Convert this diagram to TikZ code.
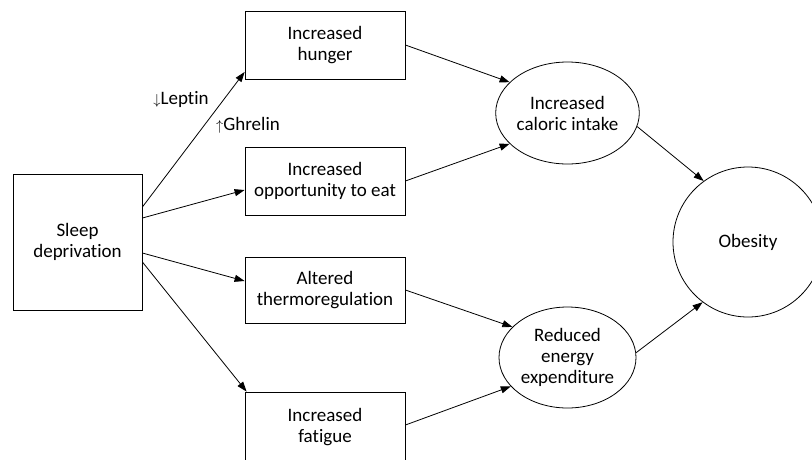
\documentclass[tikz,border=0pt]{standalone}
\usepackage{fontspec}
\setmainfont{Carlito}[Ligatures={NoCommon}]
\usetikzlibrary{arrows.meta,shapes.geometric,calc}
\tikzset{
  boxnode/.style={draw, line width=0.8pt, rectangle, minimum width=160pt, minimum height=68pt, inner sep=0pt, align=center, font=\fontsize{19}{21}\selectfont},
  ovalnode/.style={draw, line width=0.8pt, ellipse, minimum width=137pt, minimum height=102pt, inner sep=0pt, align=center, font=\fontsize{19}{21}\selectfont},
  lbl/.style={inner sep=0pt, font=\fontsize{19}{21}\selectfont},
  conn/.style={line width=0.8pt, -{Triangle[length=10pt,width=7pt]}}
}
\begin{document}
\begin{tikzpicture}[x=1pt,y=-1pt]
\useasboundingbox (0,0) rectangle (812,459);
\clip (0,0) rectangle (812,459);
\node[boxnode, minimum width=129pt, minimum height=136pt] (sleep) at (77.5,242) {Sleep\\deprivation};
\node[boxnode] (hunger) at (325,45) {Increased\\hunger};
\node[boxnode] (opp) at (325,181) {Increased\\opportunity to eat};
\node[boxnode, minimum height=66pt] (thermo) at (325,290) {Altered\\thermoregulation};
\node[boxnode, minimum height=72pt] (fatigue) at (325,428) {\raisebox{4pt}{\begin{tabular}{@{}c@{}}Increased\\fatigue\end{tabular}}};
\node[ovalnode] (caloric) at (567.5,113) {Increased\\caloric intake};
\node[ovalnode, minimum height=101pt] (reduced) at (567.5,357.5) {Reduced\\energy\\expenditure};
\node[draw, line width=0.8pt, circle, minimum size=150pt, inner sep=0pt, font=\fontsize{19}{21}\selectfont] (obesity) at (748,242) {Obesity};
\node[lbl] (leptin) at (181,99) {{\fontsize{15}{15}\selectfont$\downarrow$}Leptin};
\node[lbl] (ghrelin) at (248,125) {{\fontsize{15}{15}\selectfont$\uparrow$}Ghrelin};
\draw[conn] ($(sleep.east)+(0,-35)$) -- ($(hunger.west)+(0,27)$);
\draw[conn] ($(sleep.east)+(0,-24)$) -- ($(opp.west)+(0,9)$);
\draw[conn] ($(sleep.east)+(0,11)$) -- ($(thermo.west)+(0,-9)$);
\draw[conn] ($(sleep.east)+(0,20)$) -- ($(fatigue.north west)+(2,0)$);
\draw[conn] (hunger.east) -- (caloric.152);
\draw[conn] (opp.east) -- (caloric.208);
\draw[conn] (caloric.349) -- (obesity.126);
\draw[conn] (thermo.east) -- (reduced.151);
\draw[conn] ($(fatigue.east)+(0,-3)$) -- (reduced.207);
\draw[conn] (reduced.4) -- (obesity.233);
\end{tikzpicture}
\end{document}
